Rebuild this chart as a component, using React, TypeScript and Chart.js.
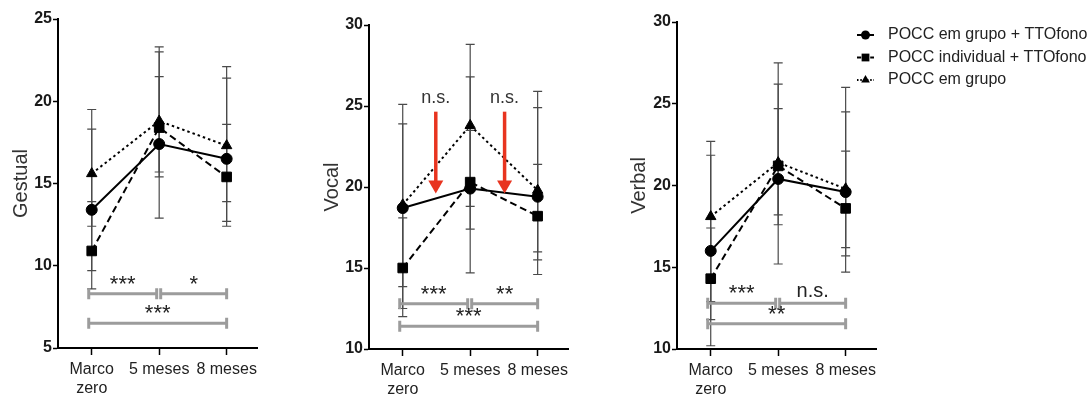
import React, { useEffect, useRef } from 'react';
import { Chart, registerables } from 'chart.js';

Chart.register(...registerables);

// ---------- data ----------
const categories = ['Marco zero', '5 meses', '8 meses'];
const xTickLabels: (string | string[])[] = [['Marco', 'zero'], '5 meses', '8 meses'];
const seriesNames = ['POCC em grupo + TTOfono', 'POCC individual + TTOfono', 'POCC em grupo'];

// Gestual
const gestualGrupoTTO = [13.4, 17.4, 16.5];
const gestualIndivTTO = [10.9, 18.4, 15.4];
const gestualGrupo = [15.6, 18.8, 17.3];
const gestualGrupoTTOLow = [8.6, 12.9, 13.9];
const gestualGrupoTTOHigh = [18.3, 21.5, 21.4];
const gestualIndivTTOLow = [9.7, 15.4, 12.4];
const gestualIndivTTOHigh = [13.9, 23.3, 18.6];
const gestualGrupoLow = [12.4, 15.7, 12.7];
const gestualGrupoHigh = [19.5, 23.0, 22.1];
const gestualBracketLevels = [8.3, 6.5];
const gestualSigLabels = ['***', '*', '***'];

// Vocal
const vocalGrupoTTO = [18.7, 19.9, 19.4];
const vocalIndivTTO = [15.0, 20.3, 18.2];
const vocalGrupo = [18.9, 23.8, 19.8];
const vocalGrupoTTOLow = [12.5, 14.7, 14.6];
const vocalGrupoTTOHigh = [25.1, 26.8, 24.9];
const vocalIndivTTOLow = [12.0, 17.4, 15.5];
const vocalIndivTTOHigh = [18.1, 23.5, 21.4];
const vocalGrupoLow = [13.85, 18.8, 16.0];
const vocalGrupoHigh = [23.9, 28.8, 25.9];
const vocalBracketLevels = [12.8, 11.4];
const vocalSigLabels = ['***', '**', '***'];
const vocalArrowX = [0.49, 1.51];
const vocalArrowTop = 24.65;
const vocalArrowTip = 19.6;
const vocalArrowLabelY = 25.5;
const vocalArrowLabel = 'n.s.';

// Verbal
const verbalGrupoTTO = [16.0, 20.4, 19.6];
const verbalIndivTTO = [14.3, 21.2, 18.6];
const verbalGrupo = [18.1, 21.4, 19.8];
const verbalGrupoTTOLow = [10.2, 17.6, 14.7];
const verbalGrupoTTOHigh = [21.85, 26.2, 24.5];
const verbalIndivTTOLow = [11.8, 15.2, 15.7];
const verbalIndivTTOHigh = [17.4, 27.5, 22.1];
const verbalGrupoLow = [12.9, 18.2, 16.2];
const verbalGrupoHigh = [22.7, 24.7, 26.0];
const verbalBracketLevels = [12.8, 11.55];
const verbalSigLabels = ['***', 'n.s.', '**'];

const comparisons = [[0, 1], [1, 2], [0, 2]];
const comparisonRows = [0, 0, 1];

// ---------- styles ----------
const FONT = "'Liberation Sans', Arial, sans-serif";
const seriesStyles = [
  { pointStyle: 'circle', radius: 5.5, dash: [] as number[], legendR: 4.5 },
  { pointStyle: 'rect', radius: 6.8, dash: [7, 4], legendR: 5.5 },
  { pointStyle: 'triangle', radius: 6, dash: [2.5, 3], legendR: 5 },
];

type PanelCfg = {
  title: string;
  yMin: number;
  yMax: number;
  series: number[][];
  lows: number[][];
  highs: number[][];
  levels: number[];
  sigLabels: string[];
  arrows?: boolean;
  legend?: boolean;
  left: number;
  width: number;
  padTop: number;
  yAxisWidth: number;
  padRight: number;
  xAxisHeight: number;
};

const panels: PanelCfg[] = [
  {
    title: 'Gestual', yMin: 5, yMax: 25,
    series: [gestualGrupoTTO, gestualIndivTTO, gestualGrupo],
    lows: [gestualGrupoTTOLow, gestualIndivTTOLow, gestualGrupoLow],
    highs: [gestualGrupoTTOHigh, gestualIndivTTOHigh, gestualGrupoHigh],
    levels: gestualBracketLevels, sigLabels: gestualSigLabels,
    left: 5, width: 270, padTop: 19, yAxisWidth: 53, padRight: 18, xAxisHeight: 46,
  },
  {
    title: 'Vocal', yMin: 10, yMax: 30,
    series: [vocalGrupoTTO, vocalIndivTTO, vocalGrupo],
    lows: [vocalGrupoTTOLow, vocalIndivTTOLow, vocalGrupoLow],
    highs: [vocalGrupoTTOHigh, vocalIndivTTOHigh, vocalGrupoHigh],
    levels: vocalBracketLevels, sigLabels: vocalSigLabels, arrows: true,
    left: 316, width: 270, padTop: 25, yAxisWidth: 53, padRight: 18, xAxisHeight: 45,
  },
  {
    title: 'Verbal', yMin: 10, yMax: 30,
    series: [verbalGrupoTTO, verbalIndivTTO, verbalGrupo],
    lows: [verbalGrupoTTOLow, verbalIndivTTOLow, verbalGrupoLow],
    highs: [verbalGrupoTTOHigh, verbalIndivTTOHigh, verbalGrupoHigh],
    levels: verbalBracketLevels, sigLabels: verbalSigLabels, legend: true,
    left: 623, width: 468, padTop: 22, yAxisWidth: 54, padRight: 215, xAxisHeight: 45,
  },
];

function drawMarker(ctx: CanvasRenderingContext2D, style: string, x: number, y: number, r: number) {
  ctx.beginPath();
  if (style === 'circle') {
    ctx.arc(x, y, r, 0, Math.PI * 2);
  } else if (style === 'rect') {
    const s = r * Math.SQRT1_2;
    ctx.rect(x - s, y - s, 2 * s, 2 * s);
  } else {
    const w = r * Math.sqrt(3) / 2;
    ctx.moveTo(x, y - r);
    ctx.lineTo(x + w, y + r / 2);
    ctx.lineTo(x - w, y + r / 2);
    ctx.closePath();
  }
  ctx.fill();
}

function makePlugin(p: PanelCfg) {
  return {
    id: 'panelExtras_' + p.title,
    beforeDatasetsDraw(chart: any) {
      const ctx: CanvasRenderingContext2D = chart.ctx;
      const xs = chart.scales.x;
      const ys = chart.scales.y;
      ctx.save();
      // error bars
      ctx.strokeStyle = '#4a4a4a';
      ctx.lineWidth = 1.2;
      ctx.setLineDash([]);
      p.lows.forEach((lowArr, si) => {
        lowArr.forEach((lo, ci) => {
          const hi = p.highs[si][ci];
          const x = xs.getPixelForValue(ci);
          const y1 = ys.getPixelForValue(lo);
          const y2 = ys.getPixelForValue(hi);
          ctx.beginPath();
          ctx.moveTo(x, y1);
          ctx.lineTo(x, y2);
          ctx.moveTo(x - 4.5, y1);
          ctx.lineTo(x + 4.5, y1);
          ctx.moveTo(x - 4.5, y2);
          ctx.lineTo(x + 4.5, y2);
          ctx.stroke();
        });
      });
      // significance brackets
      ctx.strokeStyle = '#9c9c9c';
      ctx.lineWidth = 3;
      comparisons.forEach(([a, b], k) => {
        const y = ys.getPixelForValue(p.levels[comparisonRows[k]]);
        const x1 = xs.getPixelForValue(a) + (a === 0 ? -3 : 1.5);
        const x2 = xs.getPixelForValue(b) + (b === 1 ? -2.5 : 0);
        ctx.beginPath();
        ctx.moveTo(x1, y);
        ctx.lineTo(x2, y);
        ctx.moveTo(x1, y - 5.5);
        ctx.lineTo(x1, y + 5.5);
        ctx.moveTo(x2, y - 5.5);
        ctx.lineTo(x2, y + 5.5);
        ctx.stroke();
        const label = p.sigLabels[k];
        ctx.fillStyle = '#222';
        ctx.textAlign = 'center';
        ctx.textBaseline = 'alphabetic';
        if (label.startsWith('*')) {
          ctx.font = `22px ${FONT}`;
          ctx.fillText(label, (x1 + x2) / 2, y - 3);
        } else {
          ctx.font = `20px ${FONT}`;
          ctx.fillText(label, (x1 + x2) / 2, y - 6);
        }
      });
      ctx.restore();
    },
    afterDatasetsDraw(chart: any) {
      const ctx: CanvasRenderingContext2D = chart.ctx;
      const xs = chart.scales.x;
      const ys = chart.scales.y;
      ctx.save();
      if (p.arrows) {
        vocalArrowX.forEach((ax) => {
          const x = xs.getPixelForValue(ax);
          const top = ys.getPixelForValue(vocalArrowTop);
          const tip = ys.getPixelForValue(vocalArrowTip);
          const headH = 13;
          ctx.strokeStyle = '#e8341f';
          ctx.fillStyle = '#e8341f';
          ctx.lineWidth = 3.5;
          ctx.beginPath();
          ctx.moveTo(x, top);
          ctx.lineTo(x, tip - headH + 1);
          ctx.stroke();
          ctx.beginPath();
          ctx.moveTo(x - 7.5, tip - headH);
          ctx.lineTo(x + 7.5, tip - headH);
          ctx.lineTo(x, tip);
          ctx.closePath();
          ctx.fill();
          ctx.fillStyle = '#333';
          ctx.font = `18px ${FONT}`;
          ctx.textAlign = 'center';
          ctx.textBaseline = 'middle';
          ctx.fillText(vocalArrowLabel, x, ys.getPixelForValue(vocalArrowLabelY));
        });
      }
      if (p.legend) {
        const rowY = [35, 57.5, 80];
        const lx1 = 857 - p.left;
        const lx2 = 874 - p.left;
        seriesNames.forEach((name, i) => {
          const st = seriesStyles[i];
          const y = rowY[i];
          ctx.strokeStyle = '#000';
          ctx.fillStyle = '#000';
          ctx.lineWidth = 2;
          ctx.setLineDash(st.dash.length ? [st.dash[0] * 0.6, st.dash[1] * 0.6] : []);
          ctx.beginPath();
          ctx.moveTo(lx1, y);
          ctx.lineTo(lx2, y);
          ctx.stroke();
          ctx.setLineDash([]);
          drawMarker(ctx, st.pointStyle, (lx1 + lx2) / 2, y, st.legendR);
          ctx.fillStyle = '#222';
          ctx.font = `16px ${FONT}`;
          ctx.textAlign = 'left';
          ctx.textBaseline = 'middle';
          ctx.fillText(name, 888 - p.left, y);
        });
      }
      ctx.restore();
    },
  };
}

function buildConfig(p: PanelCfg): any {
  return {
    type: 'line',
    data: {
      datasets: p.series.map((vals, si) => ({
        label: seriesNames[si],
        data: vals.map((v, ci) => ({ x: ci, y: v })),
        borderColor: '#000',
        backgroundColor: '#000',
        borderWidth: 2,
        borderDash: seriesStyles[si].dash,
        pointStyle: seriesStyles[si].pointStyle,
        pointRadius: seriesStyles[si].radius,
        pointBackgroundColor: '#000',
        pointBorderColor: '#000',
        pointBorderWidth: 1,
        tension: 0,
        fill: false,
      })),
    },
    options: {
      responsive: false,
      animation: false,
      devicePixelRatio: 1,
      layout: { padding: { top: p.padTop, right: p.padRight, left: 0, bottom: 0 } },
      plugins: { legend: { display: false }, tooltip: { enabled: false } },
      scales: {
        x: {
          type: 'linear',
          min: -0.5,
          max: 2.45,
          afterBuildTicks: (s: any) => {
            s.ticks = categories.map((_, i) => ({ value: i }));
          },
          afterFit: (s: any) => {
            s.height = p.xAxisHeight;
          },
          ticks: {
            callback: (v: number) => xTickLabels[v],
            font: { size: 16, family: FONT, lineHeight: 1.2 },
            color: '#222',
            padding: 5,
            maxRotation: 0,
            autoSkip: false,
          },
          grid: { drawOnChartArea: false, drawTicks: true, tickLength: 7, tickColor: '#000', tickWidth: 1.5 },
          border: { display: true, color: '#000', width: 2 },
        },
        y: {
          min: p.yMin,
          max: p.yMax,
          afterFit: (s: any) => {
            s.width = p.yAxisWidth;
          },
          ticks: {
            stepSize: 5,
            font: { size: 16, family: FONT, weight: 'bold' },
            color: '#1a1a1a',
            padding: 1,
          },
          grid: { drawOnChartArea: false, drawTicks: true, tickLength: 5, tickColor: '#000', tickWidth: 1.5 },
          border: { display: true, color: '#000', width: 2 },
          title: { display: true, text: p.title, font: { size: 20, family: FONT }, color: '#333' },
        },
      },
    },
    plugins: [makePlugin(p)],
  };
}

export default function App() {
  const refs = [useRef<HTMLCanvasElement>(null), useRef<HTMLCanvasElement>(null), useRef<HTMLCanvasElement>(null)];

  useEffect(() => {
    const charts = panels.map((p, i) => new Chart(refs[i].current as HTMLCanvasElement, buildConfig(p)));
    return () => charts.forEach((c) => c.destroy());
  }, []);

  return (
    <div style={{ position: 'absolute', left: 0, top: 0, width: 1091, height: 394, background: '#fff' }}>
      {panels.map((p, i) => (
        <canvas
          key={p.title}
          ref={refs[i]}
          width={p.width}
          height={394}
          style={{ position: 'absolute', left: p.left, top: 0, width: p.width, height: 394 }}
        />
      ))}
    </div>
  );
}
